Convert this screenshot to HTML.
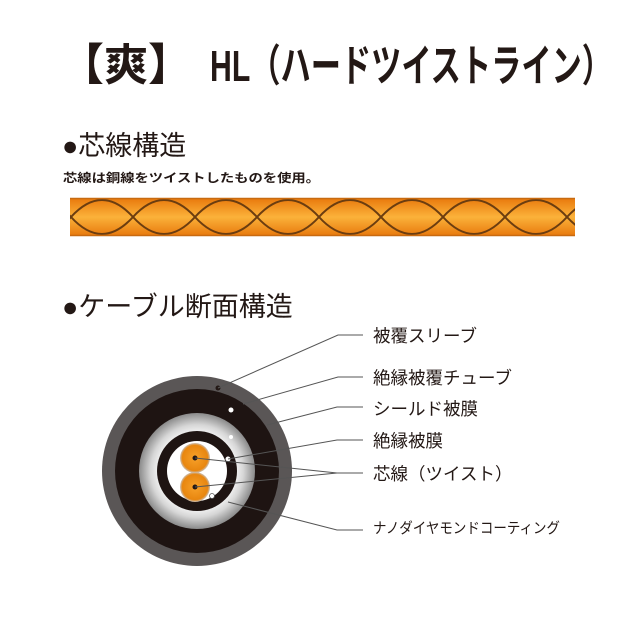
<!DOCTYPE html>
<html><head><meta charset="utf-8"><style>
body{margin:0;background:#fff}
svg{display:block}
text{font-family:"Liberation Sans","Noto Sans CJK JP",sans-serif;fill:#231815}
</style></head><body>
<svg width="640" height="640" viewBox="0 0 640 640">
<defs>
<linearGradient id="og" x1="0" y1="0" x2="0" y2="1">
<stop offset="0" stop-color="#e8780c"/><stop offset="0.5" stop-color="#fbb23a"/><stop offset="1" stop-color="#e8780c"/>
</linearGradient>
<radialGradient id="core" cx="0.5" cy="0.5" r="0.5">
<stop offset="0" stop-color="#f7a12a"/><stop offset="0.85" stop-color="#e8860f"/><stop offset="1" stop-color="#c9c0b8"/>
</radialGradient>
<radialGradient id="silver" cx="0.5" cy="0.5" r="0.5">
<stop offset="0.6" stop-color="#fff"/><stop offset="0.8" stop-color="#d6d6d6"/><stop offset="1" stop-color="#8a8a8a"/>
</radialGradient>
<clipPath id="bc"><rect x="70" y="194" width="505" height="46"/></clipPath>
</defs>
<text x="60" y="80" font-size="44" font-weight="bold">【爽】</text>
<text x="210" y="81" font-size="44" font-weight="bold" textLength="402" lengthAdjust="spacingAndGlyphs">HL（ハードツイストライン）</text>
<text x="62" y="155" font-size="27">●芯線構造</text>
<text x="63" y="182" font-size="12" font-weight="bold" textLength="257" lengthAdjust="spacingAndGlyphs">芯線は銅線をツイストしたものを使用。</text>
<g clip-path="url(#bc)">
<rect x="60" y="198" width="530" height="38" fill="url(#og)"/>
</g>
<g clip-path="url(#bc)" fill="none" stroke="#6b3d10" stroke-width="2">
<path d="M40,200 q15.5,0 31,17 t31,17 t31,-17 t31,-17 t31,17 t31,17 t31,-17 t31,-17 t31,17 t31,17 t31,-17 t31,-17 t31,17 t31,17 t31,-17 t31,-17 t31,17 t31,17"/>
<path d="M40,234 q15.5,0 31,-17 t31,-17 t31,17 t31,17 t31,-17 t31,-17 t31,17 t31,17 t31,-17 t31,-17 t31,17 t31,17 t31,-17 t31,-17 t31,17 t31,17 t31,-17 t31,-17"/>
<line x1="40" y1="198.5" x2="600" y2="198.5" stroke="#c86a10" stroke-width="1.5"/>
<line x1="40" y1="235.5" x2="600" y2="235.5" stroke="#c86a10" stroke-width="1.5"/>
</g>
<text x="62" y="316" font-size="27">●ケーブル断面構造</text>
<circle cx="197" cy="471" r="95" fill="#5a5656"/>
<circle cx="197" cy="471" r="82" fill="#1e1412"/>
<circle cx="197" cy="471" r="58" fill="url(#silver)"/>
<circle cx="197" cy="471" r="40" fill="#1e1412"/>
<circle cx="197" cy="471" r="30" fill="#fff"/>
<circle cx="195" cy="458" r="15" fill="url(#core)"/>
<circle cx="195" cy="487" r="15" fill="url(#core)"/>
<circle cx="195" cy="458" r="2.5" fill="#231815"/>
<circle cx="195" cy="487" r="2.5" fill="#231815"/>
<circle cx="218" cy="388" r="2.5" fill="#231815"/>
<circle cx="231" cy="410" r="2.5" fill="#fff"/>
<circle cx="231" cy="437" r="2" fill="#fff"/>
<circle cx="228" cy="459" r="2.5" fill="#fff"/>
<circle cx="212" cy="496" r="2.5" fill="#fff" stroke="#555" stroke-width="0.8"/>
<g stroke="#555" stroke-width="1" fill="none">
<polyline points="218,388 338,335 363,335"/>
<polyline points="243,404 338,377 363,377"/>
<polyline points="267,425 337,407 363,407"/>
<polyline points="228,459 337,440 363,440"/>
<polyline points="195,458 337,473 363,473"/>
<polyline points="195,487 337,473"/>
<polyline points="228,502 337,530 363,530"/>
</g>
<g font-size="17.5">
<text x="373" y="342">被覆スリーブ</text>
<text x="373" y="384">絶縁被覆チューブ</text>
<text x="373" y="415">シールド被膜</text>
<text x="373" y="447">絶縁被膜</text>
<text x="373" y="480">芯線（ツイスト）</text>
<text x="373" y="533" font-size="15" textLength="187" lengthAdjust="spacingAndGlyphs">ナノダイヤモンドコーティング</text>
</g>
</svg>
</body></html>
